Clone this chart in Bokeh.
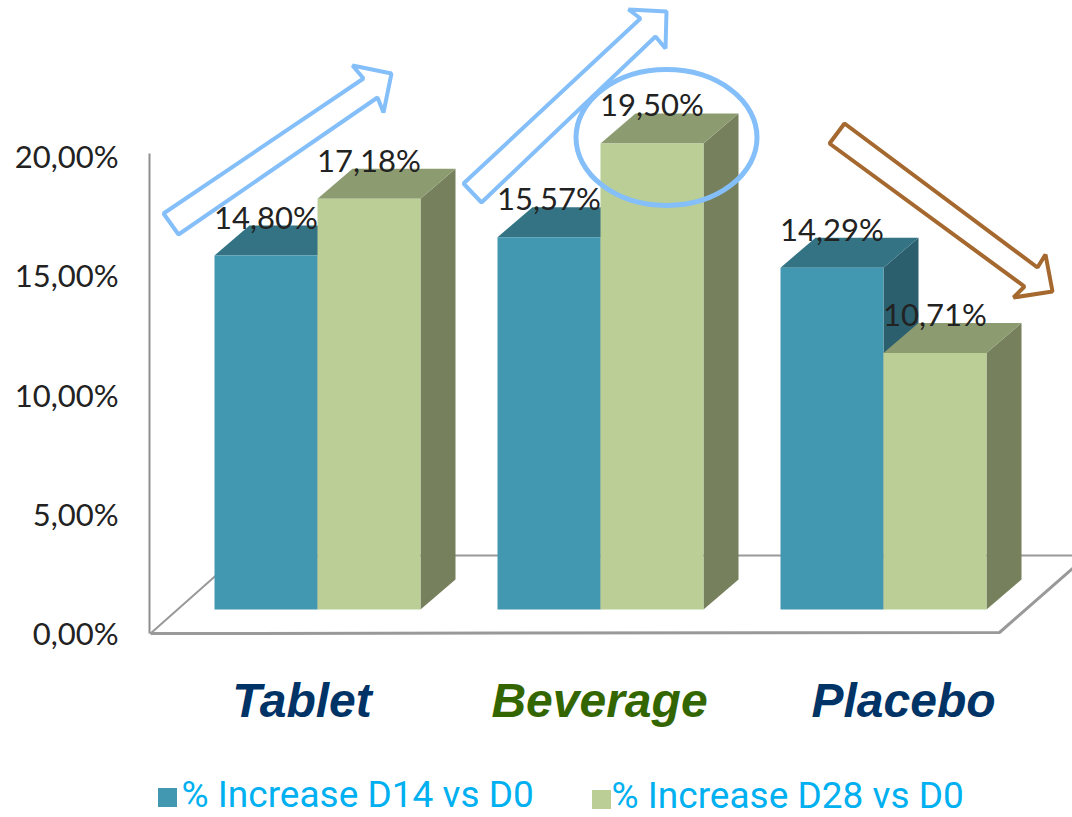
from bokeh.plotting import figure
from bokeh.embed import file_html
from bokeh.resources import INLINE
from bokeh.core.properties import value
from bokeh.models import Range1d, FixedTicker

categories = ["Tablet", "Beverage", "Placebo"]
category_colors = ["#003366", "#336600", "#003366"]
d14 = [14.80, 15.57, 14.29]
d28 = [17.18, 19.50, 10.71]
series_names = ["% Increase D14 vs D0", "% Increase D28 vs D0"]
tick_values = [0, 5, 10, 15, 20]
tick_labels = ["0,00%", "5,00%", "10,00%", "15,00%", "20,00%"]

W, H = 1072, 817
LEFT = 149
PX_PER_PCT = 23.85
PX_PER_CAT = 283
ZERO_Y = 632.5
CAT0_X = 317

def dx(px):
    return px / PX_PER_CAT
def dy(px):
    return px / PX_PER_PCT
def X(px):
    return (px - CAT0_X) / PX_PER_CAT
def Y(py):
    return (ZERO_Y - py) / PX_PER_PCT
def poly(points):
    return [X(a) for a, _ in points], [Y(b) for _, b in points]

p = figure(width=W, height=H, output_backend="svg", toolbar_location=None,
           x_range=Range1d(X(LEFT), X(W)), y_range=Range1d(Y(H), Y(0)),
           min_border_left=LEFT, min_border_right=0, min_border_top=0, min_border_bottom=0,
           margin=(0, 0, 0, 0), background_fill_color="white", outline_line_color=None)
p.grid.visible = False
p.xaxis.visible = False
ax = p.yaxis[0]
ax.ticker = FixedTicker(ticks=tick_values)
ax.major_label_overrides = {v: s for v, s in zip(tick_values, tick_labels)}
ax.bounds = (0, 20.1)
ax.axis_line_color = "#8f8f8f"
ax.axis_line_width = 2
ax.major_tick_line_color = None
ax.minor_tick_line_color = None
ax.major_label_standoff = 25
ax.major_label_text_font = "Lato"
ax.major_label_text_font_size = "31px"
ax.major_label_text_color = "#222222"

# floor
GRID = "#999999"
floor = poly([(150, 633), (999, 632), (1087, 555)])
p.line(floor[0], floor[1], line_color=GRID, line_width=3)
back = poly([(150, 633), (238, 555), (1087, 555)])
p.line(back[0], back[1], line_color=GRID, line_width=2)

BAR_W = 103 / PX_PER_CAT
BASE = dy(ZERO_Y - 609)
TOP_SHIFT = dy(ZERO_Y - 608)
DEPTH_X = dx(35)
DEPTH_Y = dy(30)

def bar(x0, v, front, top, side):
    x1 = x0 + BAR_W
    t = v + TOP_SHIFT
    p.patch([x1, x1 + DEPTH_X, x1 + DEPTH_X, x1], [BASE, BASE + DEPTH_Y, t + DEPTH_Y, t], color=side, line_width=0)
    p.patch([x0, x1, x1 + DEPTH_X, x0 + DEPTH_X], [t, t, t + DEPTH_Y, t + DEPTH_Y], color=top, line_width=0)
    p.quad(left=x0, right=x1, bottom=BASE, top=t, color=front, line_width=0)

for i in range(len(categories)):
    bar(i - BAR_W, d14[i], "#4298B0", "#337384", "#2B5F6E")
    bar(i, d28[i], "#BACE95", "#8D9B70", "#76805C")

# arrows
BLUE = "#85BFFA"
BROWN = "#A5682F"
arrow1 = poly([(163, 213), (178, 234), (377, 97), (383, 112), (391, 73), (352, 65), (363, 78)])
arrow2 = poly([(463, 183), (481, 202), (655, 36), (665, 48), (666, 11), (628, 9), (640, 18)])
arrow3 = poly([(844, 123), (829, 143), (1024, 286), (1013, 297), (1052, 291), (1045, 254), (1037, 267)])
p.patch(arrow1[0], arrow1[1], fill_color="white", line_color=BLUE, line_width=4)
p.patch(arrow2[0], arrow2[1], fill_color="white", line_color=BLUE, line_width=4)
p.patch(arrow3[0], arrow3[1], fill_color="white", line_color=BROWN, line_width=4)
p.ellipse(x=[X(666)], y=[Y(137)], width=[181], height=[136], width_units="screen", height_units="screen",
          fill_color=None, line_color=BLUE, line_width=5)

# data labels
LABEL_UP = dy(39)
lx = [i - BAR_W / 2 for i in range(3)] + [i + BAR_W / 2 for i in range(3)]
ly = [v + TOP_SHIFT + LABEL_UP for v in d14 + d28]
lt = [f"{v:.2f}%".replace(".", ",") for v in d14 + d28]
p.text(lx, ly, text=lt, text_font=value("Lato"), text_font_size="31px", text_color="#222222",
       text_align="center", text_baseline="middle")

# category labels
cat_px = [301.5, 599, 903]
p.text([X(a) for a in cat_px], [Y(700)] * 3, text=categories, text_color=category_colors,
       text_font=value("Liberation Sans"), text_font_style="bold italic", text_font_size="48px",
       text_align="center", text_baseline="middle")

# legend
colors = ["#4298B0", "#BACE95"]
lg_x = [167, 601]
lg_y = [797, 799]
lgt_x = [181, 611]
p.scatter([X(a) for a in lg_x], [Y(b) for b in lg_y], marker="square", size=19, color=colors, line_width=0)
p.text([X(a) for a in lgt_x], [Y(b) for b in [794, 795]], text=series_names,
       text_font=value("Roboto"), text_font_size="37px", text_color="#00B0F0",
       text_align="left", text_baseline="middle")

open("out.html", "w").write(file_html(p, INLINE))
